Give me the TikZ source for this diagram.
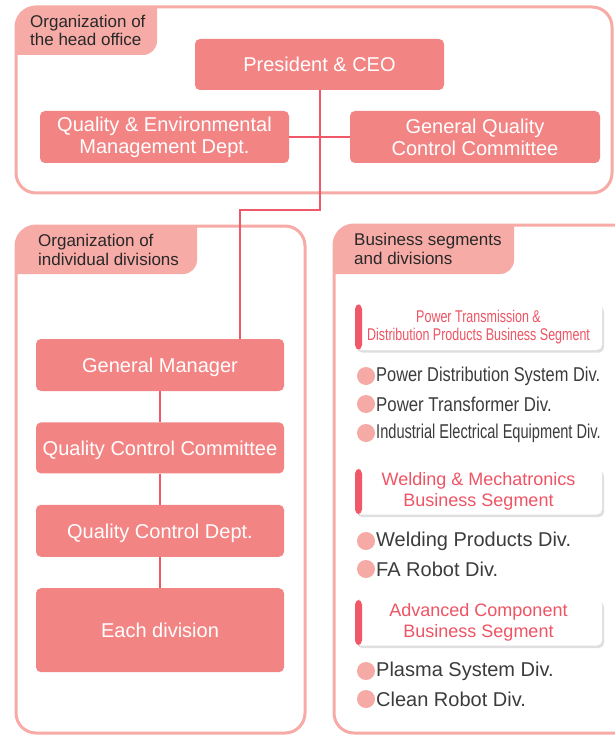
\documentclass[tikz,border=0pt]{standalone}
\usepackage{fontspec}
\setmainfont{Liberation Sans}
\usepackage{graphicx}
\definecolor{tabpink}{RGB}{247,171,166}
\definecolor{boxred}{RGB}{243,132,132}
\definecolor{linkred}{RGB}{240,88,104}
\definecolor{segred}{RGB}{238,84,100}
\definecolor{dotpink}{RGB}{246,170,165}
\definecolor{textgray}{RGB}{60,60,60}
\definecolor{textdark}{RGB}{40,40,40}
\usetikzlibrary{shadows,positioning}
\tikzstyle{frame}=[draw=tabpink,line width=3pt,rounded corners=20pt]
\tikzstyle{tab}=[fill=tabpink,rounded corners=14pt]
\tikzstyle{tabtext}=[anchor=base west,inner sep=0pt,align=left,text=textdark,
  font=\fontsize{17}{18.5}\selectfont]
\tikzstyle{unit}=[fill=boxred,rounded corners=5pt,text=white,align=center,
  inner sep=0pt,minimum width=248pt,minimum height=52pt,
  font=\fontsize{20}{22}\selectfont]
\tikzstyle{segment}=[fill=white,rounded corners=5pt,text=segred,align=center,
  inner sep=0pt,minimum width=247pt,minimum height=46pt,
  font=\fontsize{18}{20.5}\selectfont,
  drop shadow={shadow xshift=2pt,shadow yshift=-2.5pt,opacity=.25},
  path picture={\fill[linkred] (path picture bounding box.north west)
    rectangle ([xshift=7pt]path picture bounding box.south west);}]
\tikzstyle{item}=[anchor=west,inner sep=0pt,text=textgray,
  font=\fontsize{20}{22}\selectfont]
\tikzstyle{dot}=[fill=dotpink]
\tikzstyle{link}=[draw=linkred,line width=2pt]

\begin{document}
\begin{tikzpicture}[x=1pt,y=-1pt,node distance=31pt]
  \path[use as bounding box,fill=white] (0,0) rectangle (614,735);

  % panels and their tabs
  \begin{scope}
    \clip[rounded corners=20pt] (16,7) rectangle (612,193);
    \fill[tab] (0,-30) rectangle (157,55);
  \end{scope}
  \begin{scope}
    \clip[rounded corners=20pt] (16,226) rectangle (305,733);
    \fill[tab] (0,200) rectangle (197,274);
  \end{scope}
  \begin{scope}
    \clip[rounded corners=20pt] (334,225) rectangle (640,733);
    \fill[tab] (320,200) rectangle (514,274);
  \end{scope}
  \draw[frame] (16,7) rectangle (612,193);
  \draw[frame] (16,226) rectangle (305,733);
  \draw[frame] (334,225) rectangle (640,733);

  \node[tabtext] (head) at (30,46) {Organization of\\the head office};
  \node[tabtext] (indiv) at (38,265) {Organization of\\individual divisions};
  \node[tabtext] (busi) at (354,264) {Business segments\\and divisions};

  % head office
  \node[unit, minimum width=249pt, minimum height=51pt] (ceo) at (319.5,64.5)
    {President \& CEO};
  \node[unit, minimum width=249pt] (qem) at (164.5,137)
    {Quality \& Environmental\\Management Dept.};
  \node[unit, minimum width=250pt] (gqcc) at (475,137)
    {General Quality\\Control Committee};

  % divisions
  \node[unit, text depth=0pt] (gm) at (160,365) {General Manager};
  \node[unit, below=of gm, minimum height=51pt, text depth=0pt] (qcc)
    {Quality Control Committee};
  \node[unit, below=of qcc, text depth=0pt] (qcd) {Quality Control Dept.};
  \node[unit, below=of qcd, minimum height=84pt] (each) {Each division};

  \coordinate (bend) at (240,210);
  \draw[link] (ceo.south) |- (bend) -- (bend |- gm.north);
  \draw[link] (qem) -- (gqcc);
  \draw[link] (gm) -- (qcc) -- (qcd) -- (each);

  % business segments
  \node[segment, font=\fontsize{17}{18.5}\selectfont] (ptd) at (478.5,327)
    {\scalebox{.735}[1]{Power Transmission \&}\\
     \scalebox{.735}[1]{Distribution Products Business Segment}};
  \node[segment] (wm) at (478.5,491.5)
    {Welding \& Mechatronics\\Business Segment};
  \node[segment] (ac) at (478.5,622.5)
    {Advanced Component\\Business Segment};

  \node[item] (pds) at (376,376) {\scalebox{.82}[1]{Power Distribution System Div.}};
  \node[item] (pt) at (376,404) {\scalebox{.84}[1]{Power Transformer Div.}};
  \node[item] (iee) at (376,433) {\scalebox{.73}[1]{Industrial Electrical Equipment Div.}};
  \node[item] (wp) at (376,541) {Welding Products Div.};
  \node[item] (fa) at (376,569) {FA Robot Div.};
  \node[item] (ps) at (376,671) {Plasma System Div.};
  \node[item] (cr) at (376,699) {Clean Robot Div.};

  \fill[dot] ([xshift=-10pt]pds.west) circle (9pt);
  \fill[dot] ([xshift=-10pt]pt.west) circle (9pt);
  \fill[dot] ([xshift=-10pt]iee.west) circle (9pt);
  \fill[dot] ([xshift=-10pt]wp.west) circle (9pt);
  \fill[dot] ([xshift=-10pt]fa.west) circle (9pt);
  \fill[dot] ([xshift=-10pt]ps.west) circle (9pt);
  \fill[dot] ([xshift=-10pt]cr.west) circle (9pt);
\end{tikzpicture}
\end{document}
